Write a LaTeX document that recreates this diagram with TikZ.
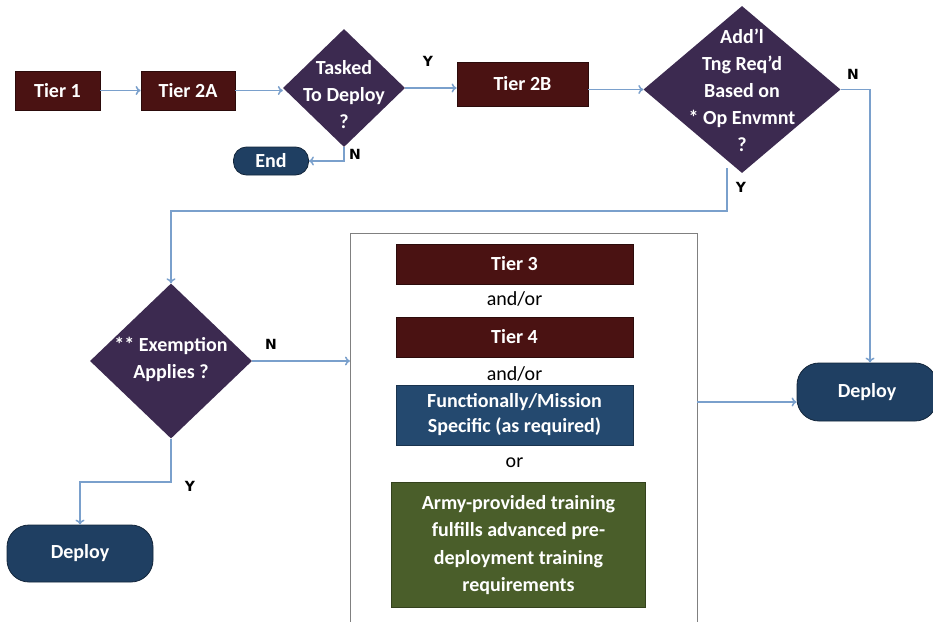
\documentclass[tikz,border=0pt]{standalone}
\usepackage{fontspec}
\setmainfont{Carlito}
\newfontfamily\ynfont{DejaVu Sans}
\usetikzlibrary{shapes.geometric,arrows.meta}
\definecolor{tiercol}{HTML}{4A1212}
\definecolor{diacol}{HTML}{3C2A50}
\definecolor{termcol}{HTML}{1F3F62}
\definecolor{funccol}{HTML}{24496F}
\definecolor{greencol}{HTML}{4A5E2A}
\definecolor{linecol}{HTML}{7AA0CC}
\definecolor{boxcol}{HTML}{808080}
\begin{document}
\begin{tikzpicture}[x=1pt,y=-1pt,
  tierbox/.style={draw=tiercol!60!black, line width=0.8pt, fill=tiercol, text=white, inner sep=0pt,
     font=\bfseries\fontsize{20}{24}\selectfont},
  dia/.style={diamond, fill=diacol, draw=none, inner sep=0pt},
  dtxt/.style={text=white, align=center, inner sep=0pt, font=\bfseries\fontsize{20}{27}\selectfont},
  term/.style={draw=termcol!60!black, line width=0.8pt, fill=termcol, text=white, inner sep=0pt,
     font=\bfseries\fontsize{20}{24}\selectfont},
  plain/.style={inner sep=0pt, font=\fontsize{20}{24}\selectfont},
  yn/.style={inner sep=0pt, font=\ynfont\bfseries\fontsize{14}{16}\selectfont},
  conn/.style={draw=linecol, line width=1.5pt, -{To[length=5pt,width=9pt]}}
]
\useasboundingbox (0,0) rectangle (933,621);
\fill[white] (0,0) rectangle (933,621);

% top row
\node[tierbox, minimum width=85pt, minimum height=39pt] (t1) at (57.5,90.5) {Tier 1};
\node[tierbox, minimum width=94pt, minimum height=39pt] (t2a) at (188,90.5) {Tier 2A};
\node[dia, minimum width=122pt, minimum height=118pt] (task) at (344,88) {};
\node[dtxt] (tasktxt) at (344,95) {Tasked\\To Deploy\\?};
\node[tierbox, minimum width=131pt, minimum height=44pt] (t2b) at (522.5,84) {Tier 2B};
\node[dia, minimum width=197pt, minimum height=167pt] (addl) at (742,89.5) {};
\node[dtxt] (addltxt) at (742,90) {Add’l\\Tng Req’d\\Based on\\* Op Envmnt\\?};
\node[term, rounded corners=13pt, minimum width=75pt, minimum height=28pt] (end) at (271,161) {End};

% lower left
\node[dia, minimum width=162pt, minimum height=155pt] (exem) at (171,361) {};
\node[dtxt] (exemtxt) at (171,359) {** Exemption\\Applies ?};
\node[term, rounded corners=22pt, minimum width=146pt, minimum height=57pt] (dep1) at (80,553.5) {Deploy};

% group box
\node[draw=boxcol, line width=1.3pt, minimum width=347pt, minimum height=420pt, anchor=north west, inner sep=0pt] (grp) at (350,233) {};
\node[tierbox, minimum width=237pt, minimum height=40pt] (t3) at (514.5,264) {Tier 3};
\node[plain] (ao1) at (514.5,299) {and/or};
\node[tierbox, minimum width=237pt, minimum height=40pt] (t4) at (514.5,337) {Tier 4};
\node[plain] (ao2) at (514.5,374) {and/or};
\node[tierbox, draw=funccol!70!black, fill=funccol, minimum width=237pt, minimum height=60pt, align=center,
      font=\bfseries\fontsize{20}{25}\selectfont] (func) at (514.5,415) {Functionally/Mission\\Specific (as required)};
\node[plain] (orr) at (514.5,463) {or};
\node[tierbox, draw=greencol!70!black, fill=greencol, minimum width=254pt, minimum height=125pt, align=center,
      font=\bfseries\fontsize{20}{27.5}\selectfont] (army) at (518.5,545) {Army-provided training\\fulfills advanced pre-\\deployment training\\requirements};

% right deploy
\node[term, rounded corners=22pt, minimum width=140pt, minimum height=58pt] (dep2) at (867,392) {Deploy};

% connectors
\draw[conn] (t1) -- (t2a);
\draw[conn] (t2a.east) -- (t2a.east -| task.west);
\draw[conn] (task.east) -- (task.east -| t2b.west);
\draw[conn] (t2b.east |- addl.west) -- (addl.west);
\draw[conn] (task.south) |- (end.east);
\coordinate (nturn) at (870,89.5);
\draw[conn] (addl.east) -- (nturn) -- (nturn |- dep2.north);
\coordinate (ystart) at (727,168);
\coordinate (yturn) at (727,211);
\draw[conn] (ystart) -- (yturn) -| (exem.north);
\draw[conn] (exem.east) -- (exem.east -| grp.west);
\coordinate (ey) at (171,482);
\draw[conn] (exem.south) -- (ey) -| (dep1.north);
\coordinate (go) at (697,402);
\draw[conn] (go) -- (go -| dep2.west);

% labels
\node[yn] (ly1) at (428,61) {Y};
\node[yn] (ln1) at (355,154) {N};
\node[yn] (ln2) at (853,74) {N};
\node[yn] (ly2) at (741,187) {Y};
\node[yn] (ln3) at (271,344) {N};
\node[yn] (ly3) at (190,486) {Y};
\end{tikzpicture}
\end{document}
